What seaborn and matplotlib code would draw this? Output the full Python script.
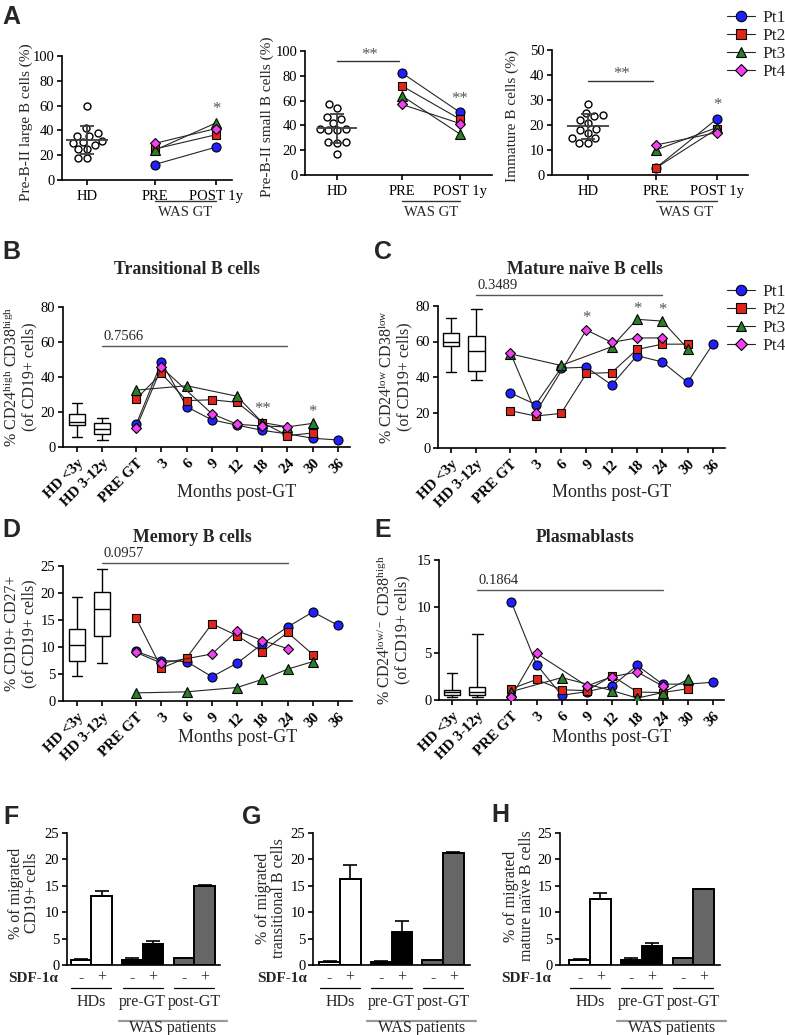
import numpy as np
import pandas as pd
import matplotlib
matplotlib.use("Agg")
import matplotlib.pyplot as plt
import matplotlib.transforms as mtransforms
from matplotlib.lines import Line2D
from matplotlib.container import BarContainer
import seaborn as sns
import warnings
warnings.filterwarnings("ignore")

nan = np.nan

# ----------------------------
# Data
# ----------------------------
PATIENTS = ["Pt1", "Pt2", "Pt3", "Pt4"]
PT_COLORS = ["#1f1fff", "#e0261b", "#2f7d2a", "#f23ff2"]
PT_MARKERS = ["o", "s", "^", "D"]
PT_SIZES = [6.5, 6.0, 6.5, 4.8]

A_LABELS = ["HD", "PRE", "POST 1y"]
large_hd = [60, 42, 37.6, 35.7, 35.7, 31.5, 31, 30, 28.5, 25, 25, 17.5, 17.5]
large_pre = [12.5, 25, 24, 29.5]
large_post = [26.5, 36.5, 46, 41.5]
small_hd = [57, 54, 47, 45, 42, 37, 37, 36, 36, 27, 27, 26, 16.7]
small_pre = [82.5, 72, 64, 57]
small_post = [50.5, 45, 33, 41.5]
imm_hd = [28.5, 25, 24, 23.5, 22, 21, 18.5, 18, 17, 15, 15, 13, 13]
imm_pre = [2.8, 2.8, 10, 12]
imm_post = [22.5, 18.5, 19, 17]

HD_LABELS = ["HD <3y", "HD 3-12y"]
TIME_LABELS = ["PRE GT", "3", "6", "9", "12", "18", "24", "30", "36"]

trans = {
    "Pt1": [13, 48.5, 23, 15.5, 12.5, 9.5, 7.5, 5, 4],
    "Pt2": [27.5, 42, 26.5, 27, 25.5, 14, 6.5, 8, nan],
    "Pt3": [32.5, nan, 35, nan, 29, 14, 11.5, 13.5, nan],
    "Pt4": [11, 45.5, nan, 19, 13, 12, 11.5, nan, nan],
}
trans_box = [(5.5, 12.8, 14.5, 19, 25.3), (4, 7.5, 10.5, 13.5, 16.5)]

naive = {
    "Pt1": [31, 24.5, 45, 45.5, 35.5, 52, 48.5, 37, 58.5],
    "Pt2": [21, 18, 19.5, 42, 42.5, 55.5, 58.5, 58.5, nan],
    "Pt3": [53, nan, 46.5, nan, 57, 72.5, 71.5, 56, nan],
    "Pt4": [53.5, 20, nan, 66.5, 59.5, 62, 62, nan, nan],
}
naive_box = [(43, 57.5, 60, 65, 73), (38.5, 43.5, 54.5, 63, 78.5)]

memory = {
    "Pt1": [9.2, 7.5, 7.3, 4.5, 7.0, 10.6, 13.7, 16.5, 14.0],
    "Pt2": [15.3, 6.1, 8.0, 14.3, 12.1, 9.1, 12.7, 8.6, nan],
    "Pt3": [1.5, nan, 1.7, nan, 2.5, 4.0, 5.9, 7.3, nan],
    "Pt4": [9.0, 7.0, nan, 8.7, 13.0, 11.2, 9.7, nan, nan],
}
memory_box = [(4.7, 7.5, 10.4, 13.4, 19.2), (7, 12.1, 17, 20.1, 24.4)]

plasma = {
    "Pt1": [10.5, 3.8, 0.5, 0.9, 1.5, 3.7, 1.7, 1.7, 1.9],
    "Pt2": [1.2, 2.2, 1.1, 1.0, 2.6, 0.85, 0.8, 1.2, nan],
    "Pt3": [0.9, nan, 2.4, nan, 1.0, 0.2, 0.8, 2.2, nan],
    "Pt4": [0.35, 5.0, nan, 1.5, 2.5, 3.0, 1.5, nan, nan],
}
plasma_box = [(0.3, 0.5, 0.85, 1.1, 2.9), (0.3, 0.55, 0.9, 1.35, 7.1)]

MIG_GROUPS = ["HDs", "pre-GT", "post-GT"]
SDF = ["-", "+"]
GROUP_COLORS = ["white", "black", "#666666"]
mig_cd19 = [1.0, 13.0, 1.0, 3.9, 1.3, 15.0]
mig_cd19_sem = [0.2, 1.1, 0.3, 0.7, 0, 0.08]
mig_trans = [0.6, 16.2, 0.5, 6.2, 0.9, 21.3]
mig_trans_sem = [0.15, 2.7, 0.3, 2.2, 0, 0.15]
mig_naive = [1.0, 12.5, 1.0, 3.6, 1.3, 14.3]
mig_naive_sem = [0.2, 1.1, 0.3, 0.6, 0, 0.05]

# ----------------------------
# Style
# ----------------------------
sns.set_theme(style="ticks")
plt.rcParams["font.family"] = ["Liberation Serif", "DejaVu Serif"]
plt.rcParams["mathtext.fontset"] = "custom"
plt.rcParams["mathtext.rm"] = "Liberation Serif"
plt.rcParams["mathtext.it"] = "Liberation Serif:italic"
plt.rcParams["mathtext.bf"] = "Liberation Serif:bold"
plt.rcParams["axes.linewidth"] = 1.2
plt.rcParams["xtick.major.width"] = 1.2
plt.rcParams["ytick.major.width"] = 1.2
plt.rcParams["xtick.major.size"] = 3.5
plt.rcParams["ytick.major.size"] = 3.5
plt.rcParams["axes.edgecolor"] = "black"
plt.rcParams["xtick.color"] = "black"
plt.rcParams["ytick.color"] = "black"

W, H = 785, 1035
fig = plt.figure(figsize=(W / 100, H / 100), dpi=100)


def add_ax(l, t, r, b):
    return fig.add_axes([l / W, 1 - b / H, (r - l) / W, (b - t) / H])


def fy(ypx):
    return 1 - ypx / H


def ftext(x, y, s, **kw):
    fig.text(x / W, fy(y), s, **kw)


def blend(ax):
    return mtransforms.blended_transform_factory(ax.transData, fig.transFigure)


def letter(x, y, s):
    ftext(x, y, s, family="Liberation Sans", fontweight="bold", fontsize=18,
          ha="center", va="center")


def pt_line(ax, x, y, i):
    sns.lineplot(x=x, y=y, ax=ax, estimator=None, sort=False, color="#262626",
                 linewidth=0.8, marker=PT_MARKERS[i], markersize=PT_SIZES[i],
                 markerfacecolor=PT_COLORS[i], markeredgecolor="black",
                 markeredgewidth=0.8, zorder=3 + i)


# ----------------------------
# Panel A
# ----------------------------
A_POS = [0, 1.05, 2]


def a_panel(ax, hd, pre, post, ymax, ystep, xlim, ylabel, ylab_x):
    sns.swarmplot(x=np.full(len(hd), A_POS[0]), y=hd, native_scale=True, orient="x",
                  ax=ax, color="white", edgecolor="black", linewidth=1.0, size=5.0, zorder=2)
    m, s = np.mean(hd), np.std(hd, ddof=1)
    ax.hlines(m, A_POS[0] - 0.33, A_POS[0] + 0.33, color="#404040", lw=1.3, zorder=4)
    ax.errorbar(A_POS[0], m, yerr=s, color="#404040", lw=1.3, capsize=5, capthick=1.3, zorder=4)
    for i in range(4):
        pt_line(ax, [A_POS[1], A_POS[2]], [pre[i], post[i]], i)
    ax.set_xlim(*xlim)
    ax.set_ylim(0, ymax)
    ax.set_yticks(np.arange(0, ymax + 0.1, ystep))
    ax.set_xticks(A_POS)
    ax.set_xticklabels(A_LABELS, fontsize=10.5)
    ax.tick_params(axis="y", labelsize=10.5, pad=2)
    ax.set_xlabel("")
    ax.set_ylabel(ylabel, fontsize=11)
    ax.yaxis.set_label_coords(ylab_x, 0.47)
    sns.despine(ax=ax)
    tr = blend(ax)
    ax.plot([A_POS[1], A_POS[2]], [fy(201), fy(201)], transform=tr, color="#333",
            lw=1, clip_on=False)
    ax.text(np.mean(A_POS[1:]), fy(212), "WAS GT", transform=tr, ha="center",
            va="center", fontsize=10.5)


axA1 = add_ax(62, 56, 232, 180)
a_panel(axA1, large_hd, large_pre, large_post, 100, 20, (-0.39, 2.25),
        "Pre-B-II large B cells (%)", -0.17)
axA1.text(A_POS[2], 57, "*", ha="center", va="center", color="#555", fontsize=12)

axA2 = add_ax(305, 51, 492, 175)
a_panel(axA2, small_hd, small_pre, small_post, 100, 20, (-0.52, 2.52),
        "Pre-B-II small B cells (%)", -0.165)
axA2.plot([A_POS[0], A_POS[1] - 0.05], [92, 92], color="#333", lw=1, clip_on=False)
axA2.text(np.mean(A_POS[:2]), 97, "**", ha="center", va="center", color="#555", fontsize=12)
axA2.text(A_POS[2], 61, "**", ha="center", va="center", color="#555", fontsize=12)

axA3 = add_ax(552, 50, 748, 175)
a_panel(axA3, imm_hd, imm_pre, imm_post, 50, 10, (-0.56, 2.48),
        "Immature B cells (%)", -0.17)
axA3.plot([A_POS[0], A_POS[1] - 0.05], [37.6, 37.6], color="#333", lw=1, clip_on=False)
axA3.text(np.mean(A_POS[:2]), 40.5, "**", ha="center", va="center", color="#555", fontsize=12)
axA3.text(A_POS[2], 28, "*", ha="center", va="center", color="#555", fontsize=12)

handles = [Line2D([], [], color="#262626", lw=0.8, marker=PT_MARKERS[i],
                  markersize=PT_SIZES[i] + 1, markerfacecolor=PT_COLORS[i],
                  markeredgecolor="black", markeredgewidth=0.8) for i in range(4)]
leg_kw = dict(loc="upper left", frameon=False, fontsize=12.5, handlelength=1.6,
              handletextpad=0.45, labelspacing=0.1, borderpad=0, borderaxespad=0)
fig.legend(handles, PATIENTS, bbox_to_anchor=(727 / W, fy(10)), **leg_kw)

# ----------------------------
# Panels B-E (time course)
# ----------------------------
HD_POS = [0, 1]
TIME_POS = [2.35 + i for i in range(len(TIME_LABELS))]


def time_panel(ax, data, boxes, ymax, ystep, xlim, ylabel, ylab_x, pval, pval_y, stars, xlab_y):
    stats = [dict(whislo=b[0], q1=b[1], med=b[2], q3=b[3], whishi=b[4], fliers=[]) for b in boxes]
    ax.bxp(stats, positions=HD_POS, widths=0.65, capwidths=0.42, patch_artist=True,
           showfliers=False, manage_ticks=False,
           boxprops=dict(facecolor="white", edgecolor="black", linewidth=1.0),
           medianprops=dict(color="black", linewidth=1.0),
           whiskerprops=dict(color="black", linewidth=1.0),
           capprops=dict(color="black", linewidth=1.0))
    long = pd.DataFrame([(pt, p, v) for pt in PATIENTS for p, v in zip(TIME_POS, data[pt])],
                        columns=["patient", "pos", "value"]).dropna()
    for i, pt in enumerate(PATIENTS):
        sub = long[long["patient"] == pt]
        pt_line(ax, sub["pos"].values, sub["value"].values, i)
    ax.set_xlim(*xlim)
    ax.set_ylim(0, ymax)
    ax.set_yticks(np.arange(0, ymax + 0.01, ystep))
    ax.set_xticks(HD_POS + TIME_POS)
    ax.set_xticklabels(HD_LABELS + TIME_LABELS, rotation=45, ha="right",
                       rotation_mode="anchor", fontweight="bold", fontsize=10.8)
    ax.tick_params(axis="y", labelsize=10.5, pad=2)
    ax.set_xlabel("")
    ax.set_ylabel(ylabel, fontsize=11.5, linespacing=1.05)
    ax.yaxis.set_label_coords(ylab_x, 0.5)
    sns.despine(ax=ax)
    ax.plot([HD_POS[1], TIME_POS[6]], [pval_y, pval_y], color="#555", lw=1, clip_on=False)
    ax.text(HD_POS[1] + 0.05, pval_y + ymax * 0.02, pval, fontsize=10.5, va="bottom",
            ha="left", clip_on=False)
    for idx, s, y in stars:
        ax.text(TIME_POS[idx], y, s, ha="center", va="center", color="#555", fontsize=12)
    ax.text(TIME_POS[4], fy(xlab_y), "Months post-GT", transform=blend(ax), ha="center",
            va="center", fontsize=13)


axB = add_ax(63, 307, 350, 447)
time_panel(axB, trans, trans_box, 80, 20, (-0.556, 10.83),
           "% CD24$^{\\rm high}$ CD38$^{\\rm high}$\n(of CD19+ cells)", -0.09,
           "0.7566", 57.7, [(5, "**", 21.5), (7, "*", 20)], 492)
ftext(187, 270, "Transitional B cells", fontweight="bold", fontsize=12.8, ha="center", va="center")

axC = add_ax(438, 306, 725, 448)
time_panel(axC, naive, naive_box, 80, 20, (-0.514, 10.83),
           "% CD24$^{\\rm low}$ CD38$^{\\rm low}$\n(of CD19+ cells)", -0.088,
           "0.3489", 86.2, [(3, "*", 73.5), (5, "*", 78.5), (6, "*", 77.5)], 492)
ftext(585, 270, "Mature na\u00efve B cells", fontweight="bold", fontsize=12.8, ha="center", va="center")
fig.legend(handles, PATIENTS, bbox_to_anchor=(727 / W, fy(284)), **leg_kw)

axD = add_ax(63, 566, 352, 701)
time_panel(axD, memory, memory_box, 25, 5, (-0.55, 10.9),
           "% CD19+ CD27+\n(of CD19+ cells)", -0.09,
           "0.0957", 25.6, [], 737)
ftext(192, 538, "Memory B cells", fontweight="bold", fontsize=12.8, ha="center", va="center")

axE = add_ax(439, 560, 724, 700)
time_panel(axE, plasma, plasma_box, 15, 5, (-0.52, 10.79),
           "% CD24$^{\\rm low/-}$ CD38$^{\\rm high}$\n(of CD19+ cells)", -0.1,
           "0.1864", 11.8, [], 737)
ftext(585, 538, "Plasmablasts", fontweight="bold", fontsize=12.8, ha="center", va="center")

# ----------------------------
# Panels F-H (migration)
# ----------------------------


def mig_panel(ax, means, sems, xlim, ylabel, ylab_xy, sdf_right):
    df = pd.DataFrame({"group": np.repeat(MIG_GROUPS, 2), "sdf": SDF * 3, "value": means})
    sns.barplot(data=df, x="group", y="value", hue="sdf", order=MIG_GROUPS, hue_order=SDF,
                dodge=True, width=0.8, gap=0, errorbar=None, ax=ax, legend=False,
                edgecolor="black", linewidth=1.4)
    bar_conts = [c for c in ax.containers if isinstance(c, BarContainer)]
    for h, cont in enumerate(bar_conts):
        for g, bar in enumerate(cont.patches):
            bar.set_facecolor(GROUP_COLORS[g])
            bar.set_edgecolor("black")
            k = g * 2 + h
            xc = bar.get_x() + bar.get_width() / 2
            if sems[k] > 0:
                ax.errorbar(xc, means[k], yerr=[[0], [sems[k]]], color="black", lw=1.2,
                            capsize=5, capthick=1.2, zorder=1)
            ax.text(xc, fy(978), SDF[h], transform=blend(ax), ha="center", va="center",
                    fontsize=11.5)
    ax.set_xlim(*xlim)
    ax.set_ylim(0, 25)
    ax.set_yticks(np.arange(0, 26, 5))
    ax.set_xticks([])
    ax.tick_params(axis="y", labelsize=10.5, pad=2)
    ax.set_xlabel("")
    ax.set_ylabel("")
    sns.despine(ax=ax)
    tr = blend(ax)
    for g, lab in enumerate(MIG_GROUPS):
        ax.plot([g - 0.39, g + 0.39], [fy(988), fy(988)], transform=tr, color="black",
                lw=0.9, clip_on=False)
        ax.text(g, fy(1002), lab, transform=tr, ha="center", va="center", fontsize=11.5)
    ax.plot([1 - 0.47, 2 + 0.63], [fy(1021), fy(1021)], transform=tr, color="#999999",
            lw=1.6, clip_on=False)
    ax.text(1.58, fy(1028), "WAS patients", transform=tr, ha="center", va="center",
            fontsize=11.5)
    ftext(sdf_right, 978, "SDF-1\u03b1", fontweight="bold", fontsize=11, ha="right",
          va="center")
    ftext(ylab_xy[0], ylab_xy[1], ylabel, rotation=90, ha="center", va="center",
          fontsize=11.5, multialignment="center", linespacing=1.0)


axF = add_ax(67, 833, 220, 965)
mig_panel(axF, mig_cd19, mig_cd19_sem, (-0.47, 2.5), "% of migrated\nCD19+ cells",
          (24, 893), 58)
axG = add_ax(313, 833, 470, 965)
mig_panel(axG, mig_trans, mig_trans_sem, (-0.52, 2.52), "% of migrated\ntransitional B cells",
          (271, 898), 307)
axH = add_ax(560, 833, 720, 965)
mig_panel(axH, mig_naive, mig_naive_sem, (-0.58, 2.52), "% of migrated\nmature na\u00efve B cells",
          (519, 896), 551)

# ----------------------------
# Panel letters
# ----------------------------
letter(11, 17, "A")
letter(11, 252, "B")
letter(383, 252, "C")
letter(11, 530, "D")
letter(383, 530, "E")
letter(11, 817, "F")
letter(252, 817, "G")
letter(500, 815, "H")

fig.savefig("out.png", dpi=100)
